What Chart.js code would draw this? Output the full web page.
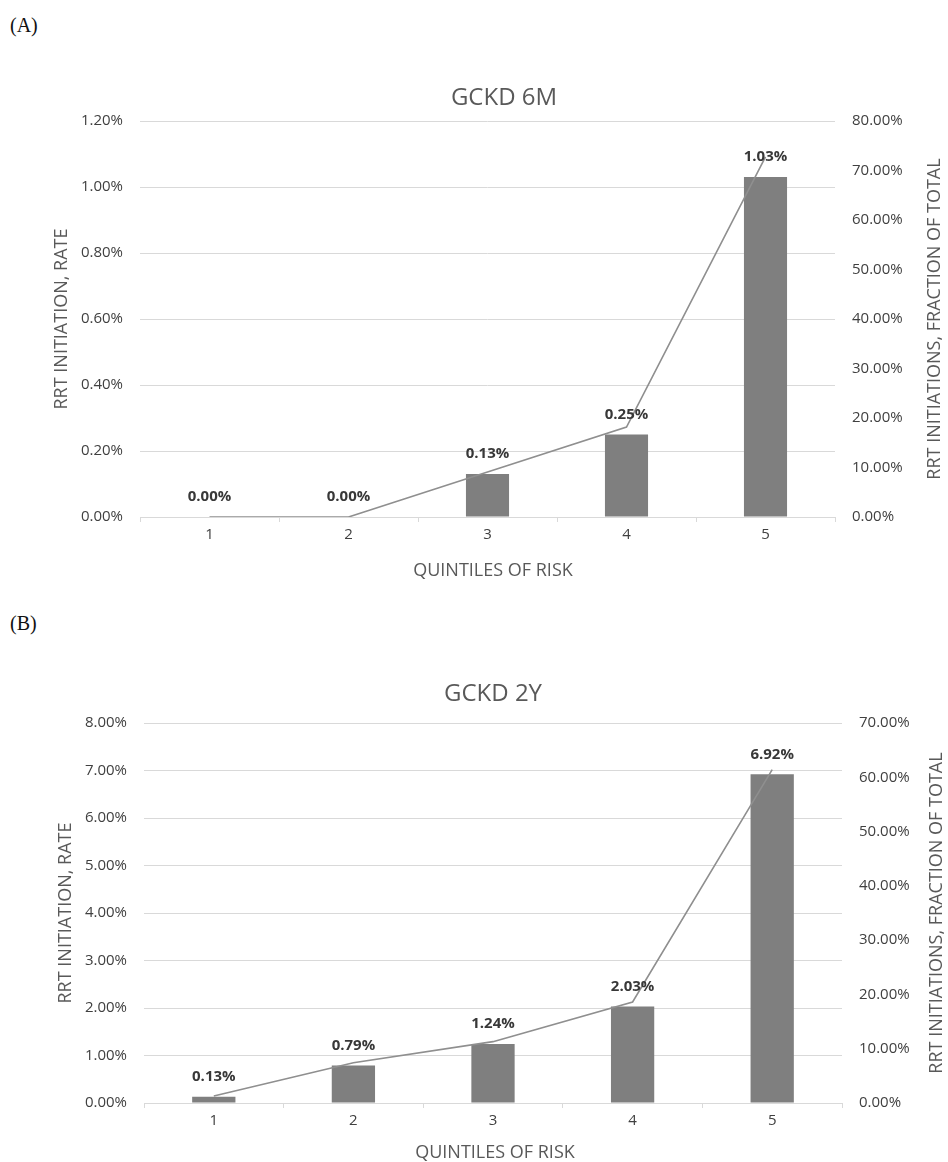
<!DOCTYPE html>
<html>
<head>
<meta charset="utf-8">
<script src="https://cdn.jsdelivr.net/npm/chart.js@4.4.0/dist/chart.umd.min.js"></script>
<style>
  body { margin: 0; background: #fff; }
  #page { position: relative; width: 948px; height: 1162px; overflow: hidden; }
  .panel { position: absolute; left: 10px; font-family: "Liberation Serif", serif; font-size: 20px; color: #111; }
  canvas { position: absolute; left: 0; }
</style>
</head>
<body>
<div id="page">
  <div class="panel" style="top:14px">(A)</div>
  <canvas id="chart6m" width="948" height="590" style="top:0"></canvas>
  <div class="panel" style="top:612px">(B)</div>
  <canvas id="chart2y" width="948" height="522" style="top:640px"></canvas>
</div>
<script>
// quintiles on the x axis
const quintiles = ['1', '2', '3', '4', '5'];

// GCKD 6M: rate (left axis, %) and fraction of total (right axis, %)
const rate6m = [0, 0, 0.13, 0.25, 1.03];
const share6m = [0, 0, 9.09, 18.18, 72.73];

// GCKD 2Y
const rate2y = [0.13, 0.79, 1.24, 2.03, 6.92];
const share2y = [1.3, 7.4, 11.3, 18.6, 61.4];

// axis ranges
const rateAxis6m = { max: 1.2, step: 0.2 };
const shareAxis6m = { max: 80, step: 10 };
const rateAxis2y = { max: 8, step: 1 };
const shareAxis2y = { max: 70, step: 10 };

Chart.defaults.font.family = '"Open Sans", sans-serif';
Chart.defaults.color = '#404040';

const GRID = '#d9d9d9';
const TEXT = '#595959';
const TICK = '#404040';

// value labels over the bars + chart/axis titles
const decorPlugin = {
  id: 'decor',
  afterDraw(chart, args, opts) {
    const ctx = chart.ctx;
    const area = chart.chartArea;
    ctx.save();

    // bar value labels
    const meta = chart.getDatasetMeta(0);
    const values = chart.data.datasets[0].data;
    ctx.font = 'bold 15px "Open Sans"';
    ctx.fillStyle = '#383838';
    ctx.textAlign = 'center';
    ctx.textBaseline = 'middle';
    meta.data.forEach((bar, i) => {
      ctx.fillText(values[i].toFixed(2) + '%', bar.x, bar.y - 20);
    });

    // chart title
    ctx.fillStyle = TEXT;
    ctx.font = '24px "Open Sans"';
    ctx.fillText(opts.title, opts.titleX, opts.titleY);

    // x axis title
    ctx.font = '18px "Open Sans"';
    ctx.fillText('QUINTILES OF RISK', opts.xTitleX, area.bottom + opts.xTitleOffset);

    // y axis titles, both read bottom to top
    const midY = (area.top + area.bottom) / 2;
    [[opts.leftX, 'RRT INITIATION, RATE'], [opts.rightX, 'RRT INITIATIONS, FRACTION OF TOTAL']].forEach(([x, txt]) => {
      ctx.save();
      ctx.translate(x, midY);
      ctx.rotate(-Math.PI / 2);
      ctx.fillText(txt, 0, 0);
      ctx.restore();
    });

    ctx.restore();
  }
};

function makeChart(id, rates, shares, rateAxis, shareAxis, box, decor) {
  const ctx = document.getElementById(id).getContext('2d');
  return new Chart(ctx, {
    type: 'bar',
    data: {
      labels: quintiles,
      datasets: [
        {
          type: 'bar',
          data: rates,
          yAxisID: 'y',
          backgroundColor: '#7f7f7f',
          borderWidth: 0,
          barPercentage: 0.31,
          categoryPercentage: 1,
          order: 2,
        },
        {
          type: 'line',
          data: shares,
          yAxisID: 'y2',
          borderColor: '#8f8f8f',
          borderWidth: 1.6,
          pointRadius: 0,
          tension: 0,
          fill: false,
          order: 1,
        },
      ],
    },
    options: {
      responsive: false,
      animation: false,
      layout: { padding: { top: box.top, bottom: 0, left: 0, right: 0 } },
      plugins: {
        legend: { display: false },
        tooltip: { enabled: false },
        title: { display: false },
        decor: decor,
      },
      scales: {
        x: {
          grid: { offset: true, drawOnChartArea: false, drawTicks: true, tickLength: 5, color: GRID },
          border: { display: true, color: GRID },
          ticks: { font: { size: 15 }, padding: 4, color: TICK },
          afterFit(s) { s.height = box.xHeight; },
        },
        y: {
          position: 'left',
          min: 0,
          max: rateAxis.max,
          ticks: {
            stepSize: rateAxis.step,
            padding: 17,
            font: { size: 15 },
            color: TICK,
            callback: (v) => v.toFixed(2) + '%',
          },
          grid: { color: GRID, drawTicks: false },
          border: { display: false },
          afterFit(s) { s.width = box.left; },
        },
        y2: {
          position: 'right',
          min: 0,
          max: shareAxis.max,
          ticks: {
            stepSize: shareAxis.step,
            padding: 17,
            font: { size: 15 },
            color: TICK,
            callback: (v) => v.toFixed(2) + '%',
          },
          grid: { display: false, drawTicks: false },
          border: { display: false },
          afterFit(s) { s.width = box.right; },
        },
      },
    },
    plugins: [decorPlugin],
  });
}

makeChart('chart6m', rate6m, share6m, rateAxis6m, shareAxis6m,
  { top: 121, xHeight: 73, left: 140, right: 113 },
  { title: 'GCKD 6M', titleX: 504, titleY: 98, xTitleX: 493, xTitleOffset: 54, leftX: 62, rightX: 935 });

makeChart('chart2y', rate2y, share2y, rateAxis2y, shareAxis2y,
  { top: 83, xHeight: 59, left: 144, right: 106 },
  { title: 'GCKD 2Y', titleX: 493, titleY: 54, xTitleX: 495, xTitleOffset: 50, leftX: 66, rightX: 937 });
</script>
</body>
</html>
